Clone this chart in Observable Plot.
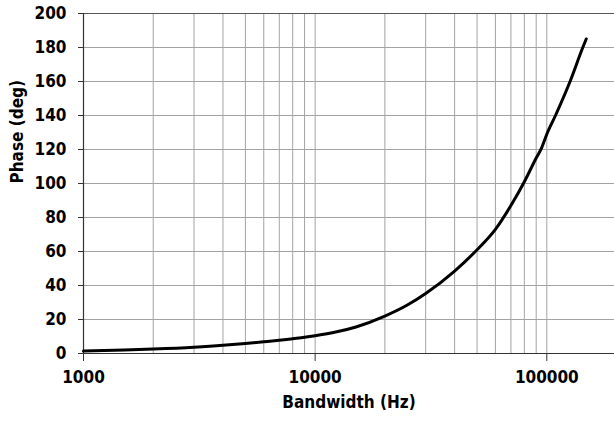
<!DOCTYPE html>
<html>
<head>
<meta charset="utf-8">
<script src="https://cdn.jsdelivr.net/npm/d3@7"></script>
<script src="https://cdn.jsdelivr.net/npm/@observablehq/plot@0.6"></script>
<style>
  html, body { margin: 0; padding: 0; background: #fff; }
  #chart svg { display: block; }
</style>
</head>
<body>
<div id="chart"></div>
<script>
// Data
const bandwidthHz = [1000, 1500, 2000, 3000, 4000, 5000, 6000, 7000, 8000, 9000, 10000, 12000, 15000, 20000, 25000, 30000, 40000, 50000, 60000, 70000, 80000, 90000, 95000, 100000, 109000, 126000, 143000, 148000];
const phaseDeg   = [1.4, 2.0, 2.6, 3.7, 4.8, 5.9, 6.9, 7.8, 8.7, 9.5, 10.4, 12.3, 15.6, 22, 28.5, 35.3, 48.5, 61, 73, 87, 101, 115, 121, 129, 140, 160, 180, 185];
const xTickValues = [1000, 10000, 100000];
const xGridValues = [1000, 2000, 3000, 4000, 5000, 6000, 7000, 8000, 9000, 10000, 20000, 30000, 40000, 50000, 60000, 70000, 80000, 90000, 100000];
const yTickValues = [0, 20, 40, 60, 80, 100, 120, 140, 160, 180, 200];
const xTitle = "Bandwidth (Hz)";
const yTitle = "Phase (deg)";

const data = bandwidthHz.map((f, i) => ({f, p: phaseDeg[i]}));
const font = "'DejaVu Sans Condensed', 'DejaVu Sans', sans-serif";

const chart = Plot.plot({
  width: 614,
  height: 423,
  marginLeft: 83,
  marginRight: 0,
  marginTop: 13,
  marginBottom: 70,
  style: {fontFamily: font, fontSize: "17px", fontWeight: "bold", background: "#fff", color: "#000"},
  x: {type: "log", domain: [1000, 196000]},
  y: {domain: [0, 200]},
  marks: [
    Plot.ruleX(xGridValues, {stroke: "#a3a3a3", strokeWidth: 1}),
    Plot.ruleY(yTickValues.filter(d => d > 0 && d < 200), {stroke: "#a3a3a3", strokeWidth: 1}),
    Plot.ruleY([200], {stroke: "#555", strokeWidth: 1}),
    Plot.ruleY([0], {stroke: "#333", strokeWidth: 1.2}),
    Plot.ruleX([1000], {stroke: "#333", strokeWidth: 1.2}),
    Plot.axisY({ticks: yTickValues, tickSize: 5, tickPadding: 12, label: null, stroke: "#333", tickFormat: d => String(d)}),
    Plot.axisX({ticks: xTickValues, tickSize: 8, tickPadding: 9, label: null, stroke: "#333", tickFormat: d => String(d)}),
    Plot.line(data, {x: "f", y: "p", stroke: "#000", strokeWidth: 3, curve: "monotone-x"}),
    Plot.text([xTitle], {frameAnchor: "bottom", dy: 54, fontSize: 17, fontWeight: "bold", fill: "#000"}),
    Plot.text([yTitle], {frameAnchor: "left", dx: -66, rotate: -90, fontSize: 17, fontWeight: "bold", fill: "#000"})
  ]
});
document.getElementById("chart").appendChild(chart);
</script>
</body>
</html>
